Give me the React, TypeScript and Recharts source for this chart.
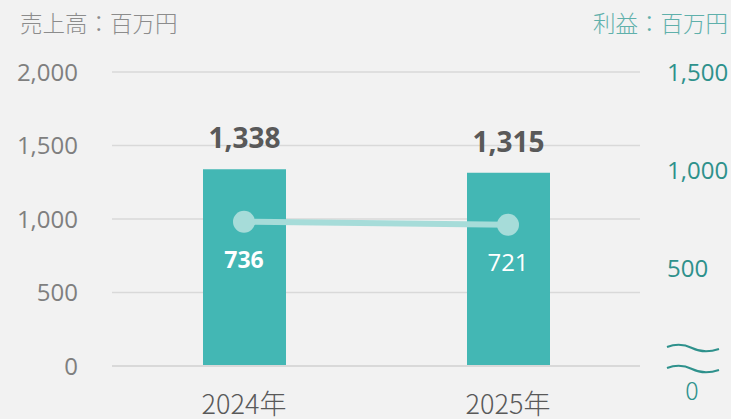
import { ComposedChart, Bar, Line, XAxis, YAxis, CartesianGrid, LabelList } from 'recharts';

const years = ['2024年', '2025年'];
const sales = [1338, 1315];
const profit = [736, 721];
const salesTicks = [0, 500, 1000, 1500, 2000];
const profitTicks = [0, 500, 1000, 1500];

const data = years.map((year, i) => ({ year, sales: sales[i], profit: profit[i] }));

const FONT = "'Open Sans', 'Noto Sans CJK JP', sans-serif";
const CJK = "'Noto Sans CJK JP', sans-serif";
const TEAL = '#43b7b4';
const LINE = '#a6dcd9';

function ProfitTick({ x, y, payload }: any) {
  if (payload.value === 0) {
    const cx = x + 25;
    return (
      <g>
        <path
          d={`M ${cx - 25} ${y - 19} Q ${cx - 12} ${y - 24} ${cx} ${y - 18} T ${cx + 27} ${y - 17}`}
          stroke="#2e918c"
          strokeWidth={2}
          fill="none"
        />
        <path
          d={`M ${cx - 25} ${y + 2} Q ${cx - 12} ${y - 3} ${cx} ${y + 3} T ${cx + 27} ${y + 4}`}
          stroke="#2e918c"
          strokeWidth={2}
          fill="none"
        />
        <text x={cx} y={y + 34} textAnchor="middle" fill="#2e918c" fontSize={25} fontFamily={CJK} fontWeight={300}>
          0
        </text>
      </g>
    );
  }
  return (
    <text x={x} y={y} dy={9} textAnchor="start" fill="#2e918c" fontSize={24} fontFamily={FONT}>
      {payload.value.toLocaleString()}
    </text>
  );
}

function ProfitLabel({ x, y, value, index }: any) {
  return (
    <text
      x={x}
      y={y + 46}
      textAnchor="middle"
      fill="#ffffff"
      fontSize={index === 0 ? 23 : 24}
      fontWeight={index === 0 ? 700 : 400}
      fontFamily={FONT}
    >
      {value}
    </text>
  );
}

export default function App() {
  return (
    <div style={{ position: 'fixed', left: 0, top: 0, width: 731, height: 419, background: '#f2f2f2', fontFamily: FONT }}>
      <div style={{ position: 'absolute', left: 20, top: 6, fontSize: 22.5, fontWeight: 300, color: '#8c8c8c', fontFamily: CJK }}>
        売上高：百万円
      </div>
      <div style={{ position: 'absolute', right: 3, top: 6, fontSize: 22.5, fontWeight: 300, color: '#5fb0ab', fontFamily: CJK }}>
        利益：百万円
      </div>
      <ComposedChart
        width={731}
        height={419}
        data={data}
        margin={{ top: 72, right: 11, bottom: 13, left: 12 }}
        style={{ position: 'absolute', left: 0, top: 0 }}
      >
        <CartesianGrid yAxisId="left" vertical={false} stroke="#d9d9d9" strokeWidth={1.5} />
        <XAxis
          dataKey="year"
          height={40}
          axisLine={{ stroke: '#d9d9d9', strokeWidth: 2 }}
          tickLine={false}
          tickSize={0}
          tickMargin={29}
          tick={{ fill: '#595959', fontSize: 27, fontFamily: CJK, fontWeight: 300 }}
        />
        <YAxis
          yAxisId="left"
          width={100}
          domain={[0, 2000]}
          ticks={salesTicks}
          axisLine={false}
          tickLine={false}
          tickSize={0}
          tickMargin={34}
          tickFormatter={(v: number) => v.toLocaleString()}
          tick={{ fill: '#7f7f7f', fontSize: 24, fontFamily: FONT }}
        />
        <YAxis
          yAxisId="right"
          orientation="right"
          width={80}
          domain={[0, 1500]}
          ticks={profitTicks}
          axisLine={false}
          tickLine={false}
          tickSize={0}
          tickMargin={27}
          tick={<ProfitTick />}
        />
        <Bar yAxisId="left" dataKey="sales" fill={TEAL} barSize={83} isAnimationActive={false}>
          <LabelList
            dataKey="sales"
            position="top"
            offset={21}
            formatter={(v: any) => Number(v).toLocaleString()}
            style={{ fill: '#595959', fontSize: 28, fontWeight: 700, fontFamily: FONT }}
          />
        </Bar>
        <Line
          yAxisId="right"
          dataKey="profit"
          stroke={LINE}
          strokeWidth={6}
          dot={{ r: 11, fill: LINE, stroke: 'none' }}
          activeDot={false}
          isAnimationActive={false}
        >
          <LabelList dataKey="profit" content={<ProfitLabel />} />
        </Line>
      </ComposedChart>
    </div>
  );
}
